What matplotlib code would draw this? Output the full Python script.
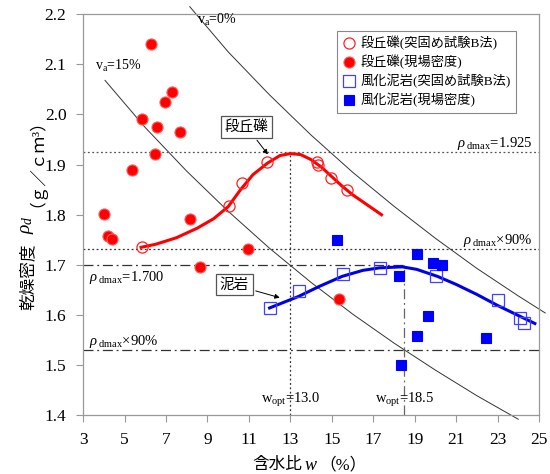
import numpy as np
import matplotlib
matplotlib.use("Agg")
import matplotlib.pyplot as plt

plt.rcParams['font.family'] = ['Liberation Serif', 'Noto Sans CJK JP']
plt.rcParams['mathtext.fontset'] = 'custom'
plt.rcParams['mathtext.rm'] = 'Liberation Serif'
plt.rcParams['mathtext.it'] = 'Liberation Serif:italic'

# === 段丘礫 ===
red_open_w = [5.83, 10.04, 10.67, 11.87, 14.28, 14.35, 14.96, 15.73]
red_open_rho = [1.736, 1.818, 1.864, 1.905, 1.905, 1.900, 1.874, 1.850]
red_fill_w = [6.28, 7.29, 6.95, 5.85, 6.55, 7.68, 6.47, 5.38, 4.00, 8.16, 4.20, 4.40, 8.64, 10.96, 15.34]
red_fill_rho = [2.140, 2.045, 2.025, 1.991, 1.975, 1.965, 1.921, 1.890, 1.802, 1.792, 1.758, 1.752, 1.695, 1.732, 1.631]
red_curve_w = [5.8, 6.5, 7.5, 8.5, 9.3, 10.0, 10.6, 11.2, 11.9, 12.5, 13.0, 13.5, 14.0, 14.5, 15.0, 15.5, 16.0, 16.7, 17.4]
red_curve_rho = [1.735, 1.741, 1.754, 1.773, 1.792, 1.816, 1.850, 1.880, 1.903, 1.918, 1.922, 1.920, 1.910, 1.895, 1.876, 1.857, 1.840, 1.820, 1.800]

# === 風化泥岩 ===
blue_open_w = [12.02, 13.42, 15.54, 17.32, 20.02, 23.0, 24.1, 24.3]
blue_open_rho = [1.613, 1.647, 1.682, 1.694, 1.677, 1.629, 1.593, 1.583]
blue_fill_w = [15.25, 19.1, 19.88, 20.3, 18.24, 19.63, 19.1, 22.43, 18.33]
blue_fill_rho = [1.750, 1.722, 1.704, 1.699, 1.677, 1.597, 1.558, 1.555, 1.501]
blue_curve_w = [12.0, 13.4, 14.4, 15.5, 16.5, 17.3, 18.4, 19.1, 20.1, 21.0, 22.0, 23.0, 24.1, 24.8]
blue_curve_rho = [1.614, 1.637, 1.657, 1.677, 1.689, 1.694, 1.696, 1.691, 1.677, 1.661, 1.641, 1.619, 1.597, 1.583]

# === 空気間隙率線 ===
va0_w = [8.15, 10, 12, 14, 16, 18, 20, 22, 24, 25.3]
va0_rho = [2.215, 2.125, 2.039, 1.959, 1.885, 1.817, 1.753, 1.693, 1.638, 1.604]
va15_w = [4.06, 6, 8, 10, 12, 14, 16, 18, 20, 22, 24]
va15_rho = [2.068, 1.974, 1.887, 1.807, 1.733, 1.665, 1.602, 1.544, 1.490, 1.439, 1.392]

W, H = 550, 474
fig = plt.figure(figsize=(W / 100, H / 100), dpi=100)
ax = fig.add_axes([0.151, 0.124, 0.829, 0.846])
ax.set_xlim(3, 25)
ax.set_ylim(1.4, 2.2)

# 空気間隙率線
ax.plot(va0_w, va0_rho, color='#333333', lw=0.7, clip_on=False)
ax.plot(va15_w, va15_rho, color='#333333', lw=0.7, clip_on=False)

# 基準線
dot = (0, (1.5, 2))
dashdot = (0, (8, 3, 1.5, 3))
ax.axhline(1.925, color='#555555', lw=0.9, ls=dot)
ax.axhline(1.7325, color='#333333', lw=0.9, ls=dot)
ax.axhline(1.53, color='#333333', lw=0.9, ls=dashdot)
ax.plot([3, 18.5], [1.700, 1.700], color='#333333', lw=0.9, ls=dashdot)
ax.plot([13, 13], [1.4, 1.925], color='#333333', lw=0.9, ls=dot)
ax.plot([18.5, 18.5], [1.4, 1.700], color='#666666', lw=0.9, ls=dashdot)

# 近似曲線
ax.plot(red_curve_w, red_curve_rho, color='#ff0000', lw=2.2)
ax.plot(blue_curve_w, blue_curve_rho, color='#0000e6', lw=2.2)

# データ点
ax.plot(red_open_w, red_open_rho, 'o', ms=8, mfc='none', mec='#ff2020', mew=0.9,
        label='段丘礫(突固め試験B法)')
ax.plot(red_fill_w, red_fill_rho, 'o', ms=8, mfc='#ff0000', mec='#ff6060', mew=0.8,
        label='段丘礫(現場密度)')
ax.plot(blue_open_w, blue_open_rho, 's', ms=8, mfc='none', mec='#4040ff', mew=0.9,
        label='風化泥岩(突固め試験B法)')
ax.plot(blue_fill_w, blue_fill_rho, 's', ms=7, mfc='#0000ff', mec='#0000ff', mew=0.8,
        label='風化泥岩(現場密度)')

# テキスト
ax.text(8.5, 2.180, 'v$_{\\rm a}$=0%', fontsize=10)
ax.text(3.6, 2.088, 'v$_{\\rm a}$=15%', fontsize=10)
ax.text(24.7, 1.935, '$\\rho_{\\rm\\ dmax}$=1.925', fontsize=10.5, ha='right')
ax.text(24.7, 1.742, '$\\rho_{\\rm\\ dmax}$×90%', fontsize=10.5, ha='right')
ax.text(3.3, 1.668, '$\\rho_{\\rm\\ dmax}$=1.700', fontsize=10.5)
ax.text(3.3, 1.540, '$\\rho_{\\rm\\ dmax}$×90%', fontsize=10.5)
ax.text(13.0, 1.424, 'w$_{\\rm opt}$=13.0', fontsize=10.5, ha='center')
ax.text(18.5, 1.424, 'w$_{\\rm opt}$=18.5', fontsize=10.5, ha='center')

box = dict(boxstyle='square,pad=0.25', fc='white', ec='#555555', lw=0.9)
arrow = dict(arrowstyle='-|>', color='black', lw=0.7, mutation_scale=7)
ax.annotate('段丘礫', xy=(12.0, 1.916), xytext=(10.9, 1.975), fontsize=10.5,
            ha='center', va='center', bbox=box, arrowprops=arrow)
ax.annotate('泥岩', xy=(12.62, 1.633), xytext=(10.3, 1.66), fontsize=10.5,
            ha='center', va='center', bbox=box, arrowprops=arrow)

# 軸
ax.set_xticks(np.arange(3, 26, 2))
ax.set_yticks(np.arange(1.4, 2.21, 0.1))
ax.set_yticklabels([f'{v:.1f}' for v in np.arange(1.4, 2.21, 0.1)])
ax.tick_params(direction='out', length=5, width=0.8, color='#999999', labelsize=12.5, pad=7)
for s in ax.spines.values():
    s.set_color('#999999')
    s.set_linewidth(0.9)

# 軸ラベル（和文と数式を分けて配置）
fs = 12
fig.text(302 / W, 1 - 465 / H, '含水比', fontsize=fs, ha='right', va='center')
fig.text(311 / W, 1 - 465 / H, '$w$', fontsize=fs + 1, ha='center', va='center')
fig.text(319 / W, 1 - 465 / H, '（%）', fontsize=fs, ha='left', va='center')

fig.text(28 / W, 1 - 310 / H, '乾燥密度', fontsize=fs, rotation=90, ha='center', va='bottom')
fig.text(28 / W, 1 - 225 / H, '$\\rho_d$', fontsize=fs + 2, rotation=90, ha='center', va='center')
fig.text(28 / W, 1 - 207 / H, '（ｇ／ｃｍ³）', fontsize=fs, rotation=90, ha='center', va='bottom')

leg = ax.legend(loc='upper right', bbox_to_anchor=(0.965, 0.975), fontsize=9.5,
                frameon=True, fancybox=False, edgecolor='#888888', framealpha=1,
                handlelength=1.0, handletextpad=0.4, borderpad=0.4, labelspacing=0.35)
leg.get_frame().set_linewidth(0.8)

fig.savefig('out.png', dpi=100)
